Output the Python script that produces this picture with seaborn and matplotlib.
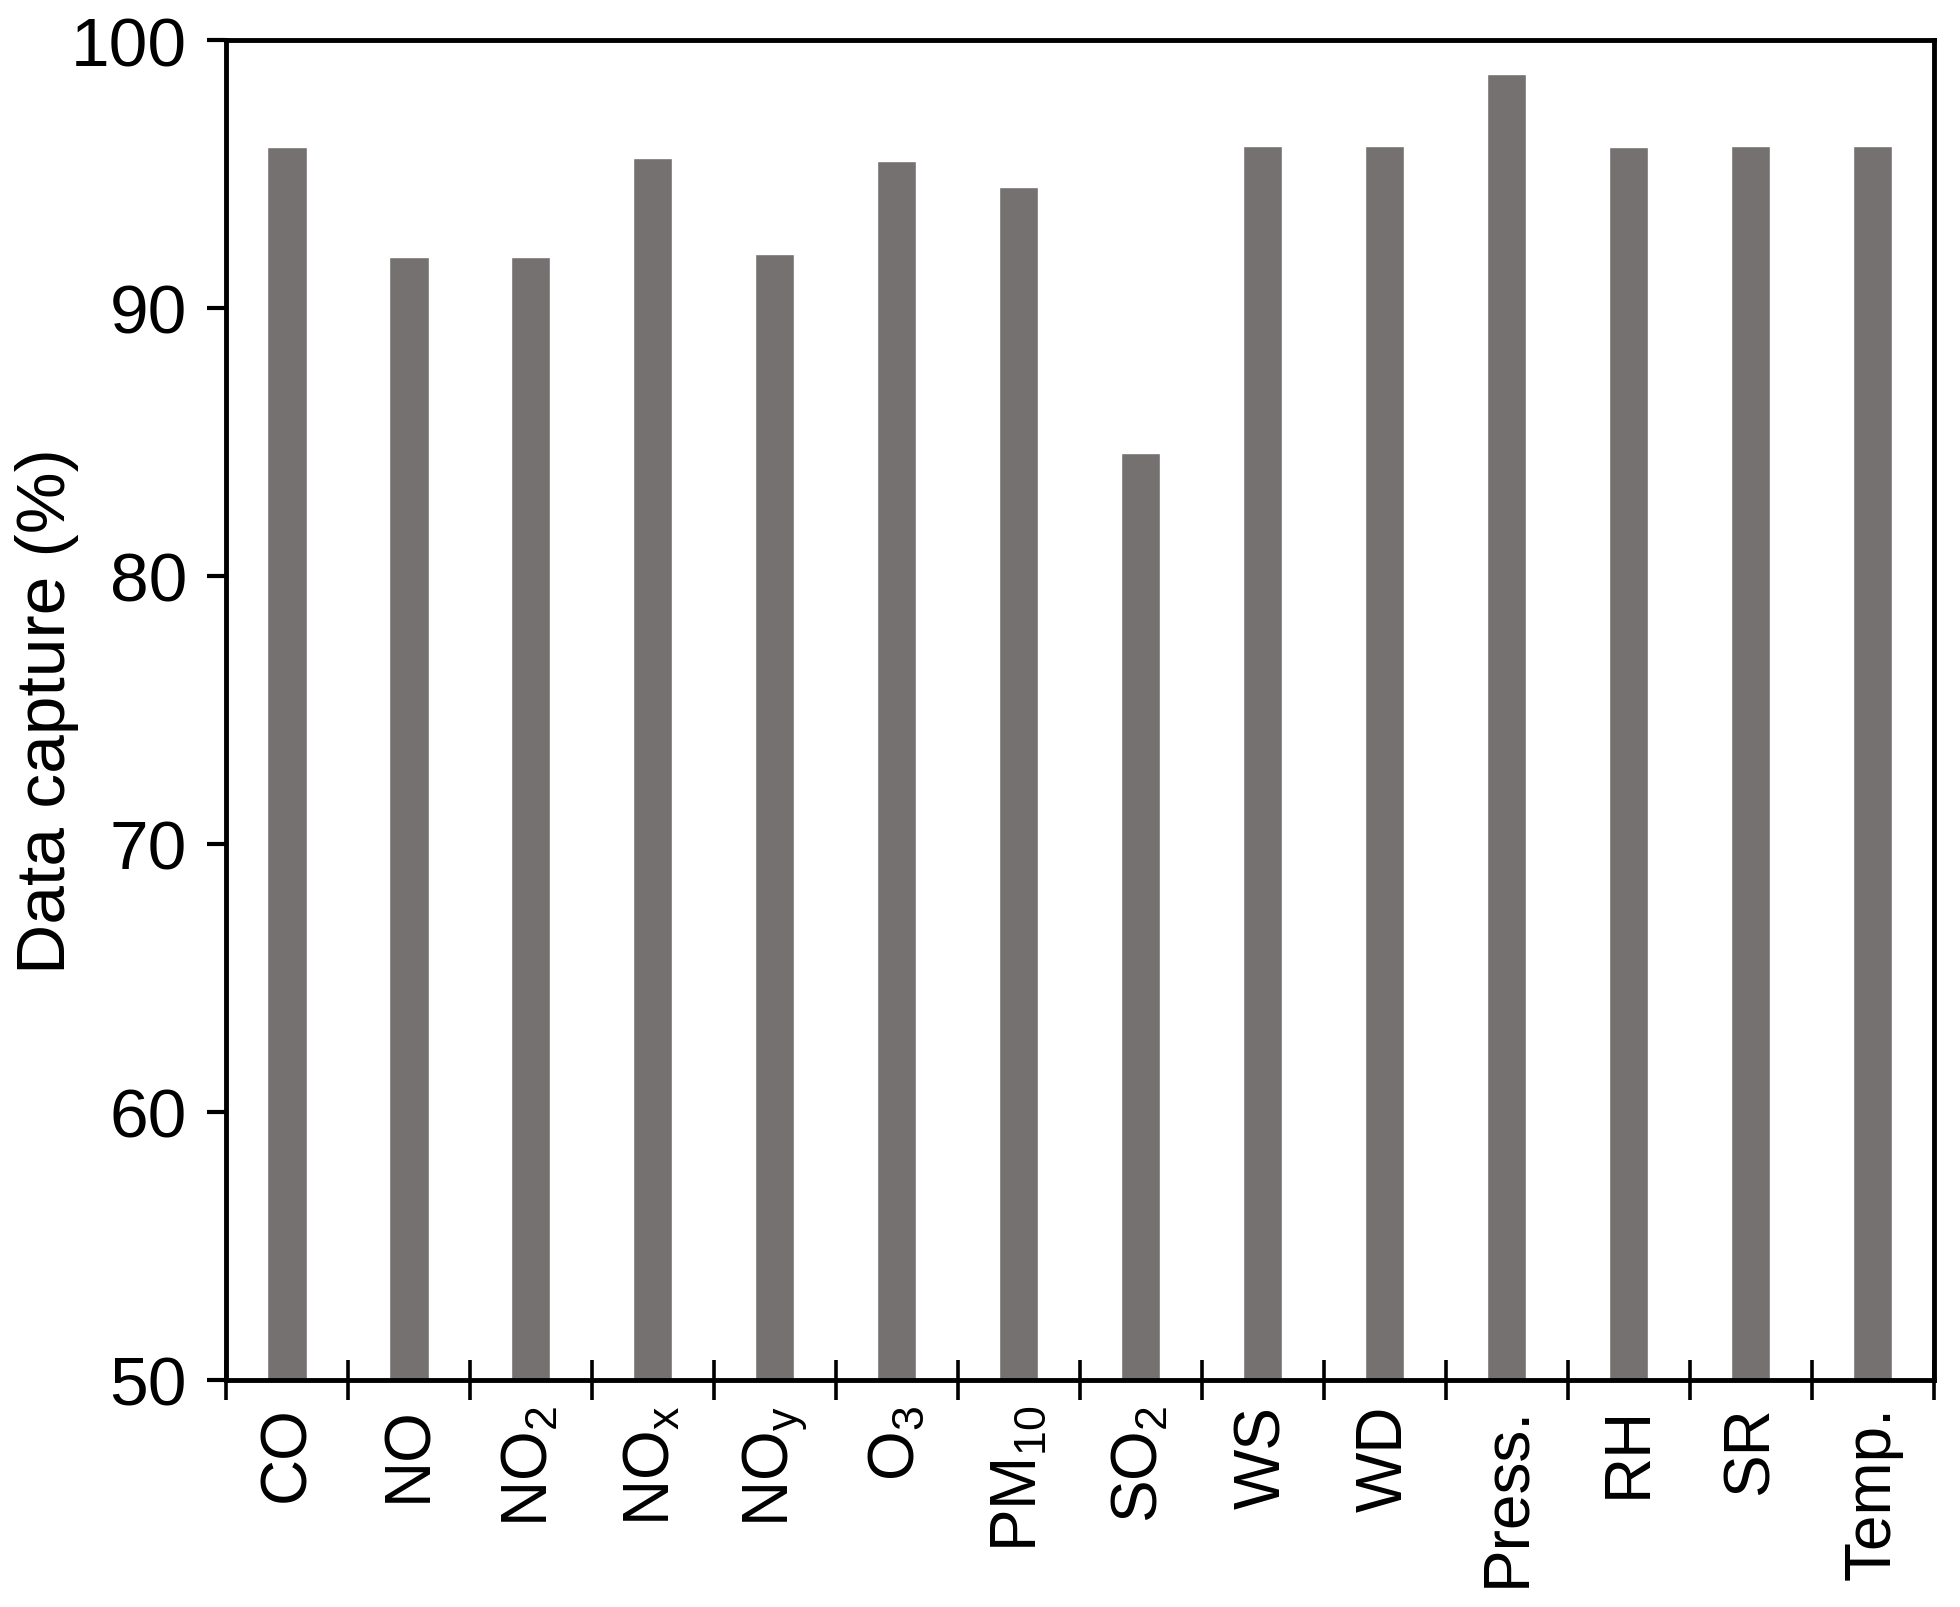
import numpy as np
import pandas as pd
import matplotlib
matplotlib.use('Agg')
import matplotlib.pyplot as plt
import seaborn as sns

# 항목별 데이터 수집률 (%)
labels = ['CO', 'NO', 'NO$_2$', 'NO$_x$', 'NO$_y$', 'O$_3$', 'PM$_{10}$', 'SO$_2$',
          'WS', 'WD', 'Press.', 'RH', 'SR', 'Temp.']
capture = [96.0, 91.9, 91.9, 95.6, 92.0, 95.5, 94.5, 84.6,
           96.05, 96.05, 98.75, 96.0, 96.05, 96.05]

df = pd.DataFrame({'item': labels, 'capture': capture})

sns.set_style('white')
plt.rcParams['font.family'] = ['Liberation Sans', 'DejaVu Sans']
plt.rcParams['mathtext.fontset'] = 'custom'
plt.rcParams['mathtext.rm'] = 'Liberation Sans'
plt.rcParams['mathtext.it'] = 'Liberation Sans'
plt.rcParams['mathtext.default'] = 'regular'
plt.rcParams['text.color'] = 'black'
plt.rcParams['xtick.color'] = 'black'
plt.rcParams['ytick.color'] = 'black'
plt.rcParams['axes.labelcolor'] = 'black'

fig = plt.figure(figsize=(19.6, 16.08), dpi=100)
ax = fig.add_axes([0.1153, 0.1412, 0.8714, 0.8333])

sns.barplot(data=df, x='item', y='capture', color='#757171', saturation=1,
            width=0.32, ax=ax)

ax.set_ylim(50, 100)
ax.set_xlim(-0.5, len(labels) - 0.5)
ax.set_yticks(np.arange(50, 101, 10))
ax.set_xticks(np.arange(-0.5, len(labels), 1.0), minor=True)
ax.set_xticks(np.arange(len(labels)))
ax.set_xticklabels(labels, rotation=90)

ax.tick_params(axis='x', which='major', length=0, pad=18, labelsize=46)
ax.tick_params(axis='x', which='minor', direction='inout', length=29, width=2.6,
               bottom=True)
ax.tick_params(axis='y', direction='out', length=14, width=3, pad=14,
               labelsize=50, left=True)

for sp in ax.spines.values():
    sp.set_visible(True)
    sp.set_color('black')
    sp.set_linewidth(3.5)

ax.set_xlabel('')
ax.set_ylabel('Data capture (%)', fontsize=50, labelpad=-6)

fig.savefig('out.png', dpi=100)
